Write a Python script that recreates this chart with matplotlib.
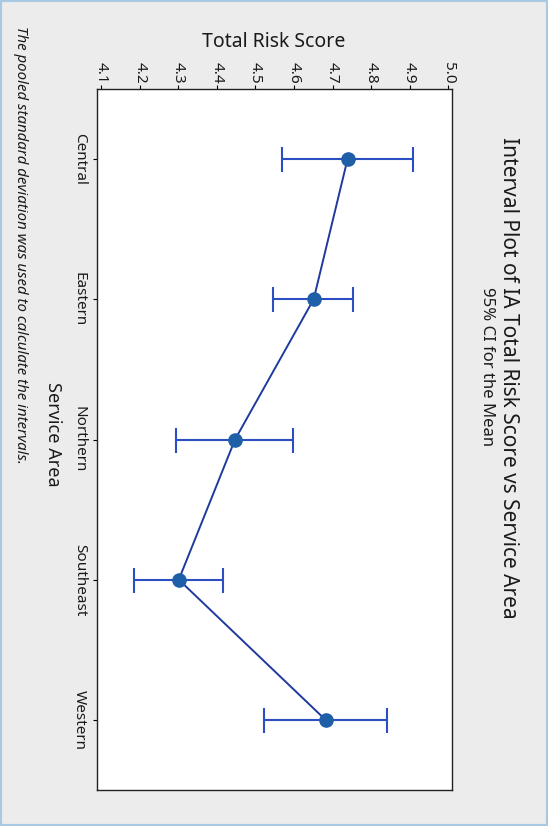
import matplotlib
matplotlib.use("Agg")
import matplotlib.pyplot as plt
from matplotlib.patches import Rectangle

plt.rcParams['font.family'] = ['Noto Sans', 'DejaVu Sans']

# Interval plot data: mean and 95% CI per service area
areas = ["Central", "Eastern", "Northern", "Southeast", "Western"]
means = [4.739, 4.651, 4.447, 4.301, 4.682]
ci_low = [4.568, 4.546, 4.294, 4.185, 4.521]
ci_high = [4.910, 4.752, 4.598, 4.417, 4.842]
score_ticks = [4.1, 4.2, 4.3, 4.4, 4.5, 4.6, 4.7, 4.8, 4.9, 5.0]

W, H = 548, 826
fig = plt.figure(figsize=(W / 100, H / 100), dpi=100)
fig.patch.set_facecolor('#ececec')
fig.patches.append(Rectangle((0, 0), 1, 1, transform=fig.transFigure,
                             fill=False, edgecolor='#a9c8e2', linewidth=3))

ax = fig.add_axes([96.7 / W, 1 - 790 / H, (452 - 96.7) / W, 701 / H])
ax.set_facecolor('white')

pos = list(range(1, len(areas) + 1))
err_lo = [m - l for m, l in zip(means, ci_low)]
err_hi = [h - m for m, h in zip(means, ci_high)]

ax.errorbar(means, pos, xerr=[err_lo, err_hi], fmt='none',
            ecolor='#2b4fc2', elinewidth=1.5, capsize=9, capthick=1.5, zorder=2)
ax.plot(means, pos, color='#1f3a9e', linewidth=1.4, zorder=3)
ax.plot(means, pos, 'o', color='#1f5fa8', markersize=9.5, zorder=4)

ax.set_xlim(4.088, 5.010)
ax.set_ylim(len(areas) + 0.5, 0.5)

txt = '#1a1a1a'
ax.xaxis.tick_top()
ax.set_xticks(score_ticks)
ax.set_xticklabels([f"{t:.1f}" for t in score_ticks], rotation=-90,
                   fontsize=11, va='bottom', ha='center', color=txt)
ax.set_yticks(pos)
ax.set_yticklabels(areas, rotation=-90, fontsize=11, va='center', ha='right',
                   color=txt)
ax.tick_params(axis='x', length=3, width=0.8, pad=1)
ax.tick_params(axis='y', length=3, width=0.8, pad=4)
for s in ax.spines.values():
    s.set_linewidth(1.0)
    s.set_color('#222222')

fig.text(274 / W, 1 - 42 / H, "Total Risk Score", fontsize=14, color=txt,
         ha='center', va='center')
fig.text(53 / W, 1 - 434 / H, "Service Area", fontsize=13, color=txt,
         rotation=-90, ha='center', va='center')
fig.text(508 / W, 1 - 378 / H, "Interval Plot of IA Total Risk Score vs Service Area",
         fontsize=15, color=txt, rotation=-90, ha='center', va='center')
fig.text(487 / W, 1 - 367 / H, "95% CI for the Mean", fontsize=12, color=txt,
         rotation=-90, ha='center', va='center')
fig.text(20 / W, 1 - 26 / H, "The pooled standard deviation was used to calculate the intervals.",
         fontsize=10.8, style='italic', color=txt, rotation=-90, ha='center', va='top')

fig.savefig("out.png", dpi=100, facecolor=fig.get_facecolor())
